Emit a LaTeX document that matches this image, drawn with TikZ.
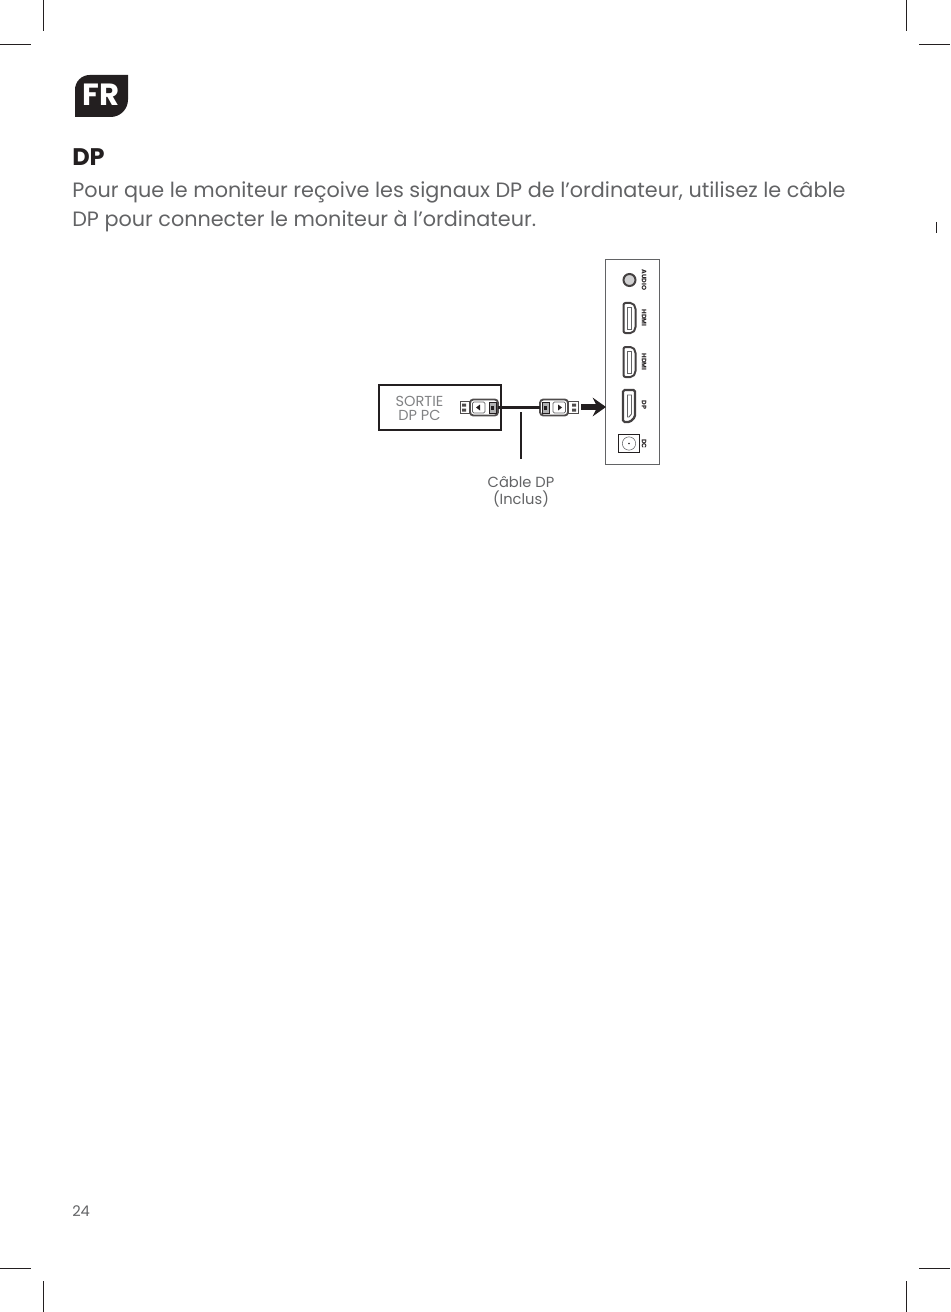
\documentclass[tikz,border=0pt]{standalone}
\usepackage{fontspec}
\setmainfont{Poppins}
\usetikzlibrary{arrows.meta,positioning}
\definecolor{inkblack}{HTML}{231F20}
\definecolor{inkgray}{HTML}{626365}
\newcommand{\pxfont}[1]{\fontsize{#1}{#1}\selectfont}
\begin{document}
\begin{tikzpicture}[x=0.75pt,y=-0.75pt,
  crop/.style={line width=0.5pt,inkblack},
  bodytext/.style={anchor=base west,inner sep=0,text=inkgray,font=\pxfont{15.57}},
  smalltext/.style={align=center,inner sep=0,text=inkgray},
  portlabel/.style={rotate=-90,inner sep=0,text=inkblack,font=\pxfont{4.8}\bfseries},
  pc/.style={draw=inkblack,line width=1.5pt,minimum width=91.5pt,minimum height=34pt,inner sep=0},
  panel/.style={draw=inkgray,line width=0.7pt,minimum width=40.5pt,minimum height=154pt,inner sep=0},
  cable/.style={line width=1.7pt,inkblack},
  arr/.style={-{Stealth[length=10pt,width=14pt,inset=3.5pt]},line width=4pt,inkblack},
  dpplug/.pic={
    \draw[inkblack!80,line width=0.7pt] (-19,-6) rectangle (-9,6);
    \fill[inkblack!80] (-17,-4) rectangle (-13,-1) (-17,1) rectangle (-13,4);
    \draw[inkblack!80,line width=1.4pt,rounded corners=2.5pt] (-9,-8) rectangle (19,8);
    \draw[inkgray,line width=0.6pt,rounded corners=1pt] (-6.5,-5.5) rectangle (6,5.5);
    \fill[inkblack] (-3,0) -- (1,-3) -- (1,3) -- cycle;
    \draw[inkblack,fill=inkgray!50,line width=0.7pt] (10,-5.5) rectangle (17,5.5);
    \fill[inkblack] (12,-2) rectangle (15,2);
  },
  hdmiport/.pic={
    \draw[inkblack!85,line width=1.5pt,rounded corners=1.5pt]
      (-6,0) -- (-6,-15) -- (3,-15) -- (6,-11) -- (6,11) -- (3,15) -- (-6,15) -- cycle;
    \draw[inkgray,line width=0.7pt] (-2,-11) rectangle (1.5,11);
  },
  dpport/.pic={
    \draw[inkblack!85,line width=1.7pt,rounded corners=1.2pt]
      (-6,0) -- (-6,-16) -- (6,-16) -- (6,11) -- (1,16) -- (-6,16) -- cycle;
    \draw[inkgray,line width=0.7pt] (-1.5,-11) -- (2.5,-11) -- (2.5,8) -- (0,11) -- (-1.5,11) -- cycle;
  }]
\useasboundingbox (0,0) rectangle (950,1312);
% crop marks
\draw[crop] (43,0)--(43,31); \draw[crop] (906,0)--(906,31);
\draw[crop] (0,44)--(31,44); \draw[crop] (919,44)--(950,44);
\draw[crop] (0,1268)--(31,1268); \draw[crop] (919,1268)--(950,1268);
\draw[crop] (43,1281)--(43,1312); \draw[crop] (906,1281)--(906,1312);
\draw[crop] (936,222)--(936,233);
% language tab
\fill[inkblack] (75,117) [rounded corners=11] -- (75,75) [sharp corners] -- (128,75)
  [rounded corners=13] -- (128,117) [sharp corners] -- cycle;
\node[anchor=base,inner sep=0,text=white,font=\pxfont{23}\bfseries] (fr) at (101,106) {FR};
% text
\node[anchor=base west,inner sep=0,text=inkblack,font=\pxfont{18}\bfseries] (title) at (72,166) {DP};
\node[bodytext] (line1) at (72,198) {Pour que le moniteur reçoive les signaux DP de l’ordinateur, utilisez le câble};
\node[bodytext] (line2) at (72,227) {DP pour connecter le moniteur à l’ordinateur.};
\node[anchor=base west,inner sep=0,text=inkgray,font=\pxfont{11}] (page) at (72,1216) {24};
% PC box and monitor panel
\node[pc] (pc) at (440,407.5) {};
\node[smalltext,text=inkgray!80,font={\fontsize{10.9}{10.9}\selectfont}] (pclabel) at (419.5,408.5) {SORTIE\\DP PC};
\node[panel] (panel) at (632.5,361.75) {};
% cable
\coordinate (plugL) at (479,407.5);
\coordinate (plugR) at (559,407.5);
\pic at (plugL) {dpplug};
\pic[xscale=-1] at (plugR) {dpplug};
\coordinate (cableL) at (498,407.5);
\coordinate (cableR) at (540,407.5);
\draw[cable] (cableL)--(cableR);
\coordinate (arrS) at (581,407);
\coordinate (arrE) at (606,407);
\draw[arr] (arrS)--(arrE);
\node[smalltext,font={\fontsize{11}{12.75}\selectfont}] (cablelabel) at (521,492) {Câble DP\\(Inclus)};
\coordinate (leadT) at (521,412);
\coordinate (leadB) at (521,459);
\draw[line width=1.2pt,inkblack] (leadT)--(leadB);
% ports
\node[circle,draw=inkblack!85,line width=1.5pt,fill=inkgray!30,minimum size=9pt,inner sep=0] (audio) at (629.5,280) {};
\pic at (629.5,318) {hdmiport};
\pic at (629.5,362) {hdmiport};
\pic at (629,406) {dpport};
\node[rectangle,draw=inkblack,line width=0.8pt,minimum width=16.2pt,minimum height=14pt,inner sep=0] (dc) at (629,443.5) {};
\node[circle,draw=inkgray,line width=0.4pt,minimum size=10pt,inner sep=0] (dcring) at (dc) {};
\fill[inkblack] (dc) circle[radius=0.8];
\node[portlabel] at (644,280) {AUDIO};
\node[portlabel] at (644,318) {HDMI};
\node[portlabel] at (644,362) {HDMI};
\node[portlabel] at (644,405) {DP};
\node[portlabel] at (644,444) {DC};
\end{tikzpicture}
\end{document}
